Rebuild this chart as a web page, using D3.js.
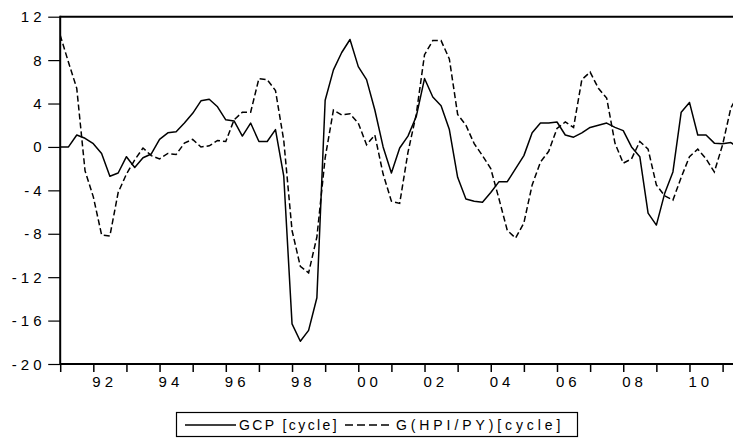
<!DOCTYPE html>
<html lang="en">
<head>
<meta charset="UTF-8">
<title>GCP and G(HPI/PY) cycles</title>
<style>
  body { margin: 0; background: #fff; }
  text { font-family: "Liberation Sans", Arial, sans-serif; fill: #000; }
</style>
</head>
<body>
<div id="chart"></div>
<script src="https://d3js.org/d3.v7.min.js"></script>
<script>
// quarterly observations starting 1991Q1
var startYear = 1991;
var gcp = [0, 0, 1.1, 0.8, 0.3, -0.6, -2.7, -2.4, -0.9, -1.9,
    -1.0, -0.65, 0.7, 1.3, 1.4, 2.2, 3.1, 4.25, 4.4, 3.7,
    2.5, 2.4, 1.0, 2.2, 0.5, 0.5, 1.6, -2.7, -16.3, -17.9,
    -16.9, -13.9, 4.3, 7.1, 8.7, 9.9, 7.4, 6.2, 3.4, 0,
    -2.4, -0.1, 1.0, 2.8, 6.3, 4.6, 3.8, 1.6, -2.8, -4.8,
    -5.0, -5.1, -4.2, -3.2, -3.2, -2.0, -0.8, 1.3, 2.2, 2.2,
    2.3, 1.1, 0.9, 1.3, 1.8, 2.0, 2.2, 1.8, 1.5, 0,
    -0.9, -6.1, -7.2, -4.3, -2.3, 3.2, 4.1, 1.1, 1.1, 0.35,
    0.3, 0.4, -0.1];
var hpi = [10.3, 7.8, 5.4, -2.2, -4.6, -8.1, -8.2, -4.2, -2.5, -1.2,
    -0.1, -0.8, -1.1, -0.6, -0.7, 0.35, 0.7, 0, 0.1, 0.6,
    0.5, 2.5, 3.2, 3.2, 6.3, 6.2, 5.2, 0.6, -7.7, -11.0,
    -11.6, -8.3, -1.0, 3.4, 2.95, 3.05, 2.2, 0.2, 1.1, -2.5,
    -5.0, -5.2, -0.5, 3.0, 8.5, 9.8, 9.8, 8.1, 3.0, 2.0,
    0.3, -0.8, -2.0, -4.8, -7.7, -8.4, -7.0, -3.5, -1.4, -0.4,
    1.7, 2.3, 1.8, 6.2, 6.9, 5.4, 4.5, 0.35, -1.5, -1.1,
    0.5, -0.2, -3.5, -4.5, -4.9, -2.8, -0.9, -0.2, -1.1, -2.3,
    0.2, 3.6, 5.0];
var yTicks = [12, 8, 4, 0, -4, -8, -12, -16, -20];
var yearTicks = d3.range(1991, 2012);
var labelYears = [1992, 1994, 1996, 1998, 2000, 2002, 2004, 2006, 2008, 2010];
var seriesNames = ["GCP [cycle]", "G(HPI/PY)[cycle]"];

var W = 733, H = 438;
var margin = {top: 16.7, left: 60.2, bottom: 364};

var svg = d3.select("#chart").append("svg")
    .attr("width", W)
    .attr("height", H);

var x = d3.scaleLinear().domain([1991, 2011.5]).range([margin.left, margin.left + 20.5 * 33.12]);
var y = d3.scaleLinear().domain([-20, 12]).range([margin.bottom, margin.top]);

function t(i) { return startYear + i / 4; }

svg.append("clipPath").attr("id", "clip")
  .append("rect")
    .attr("x", margin.left).attr("y", margin.top)
    .attr("width", W - margin.left).attr("height", margin.bottom - margin.top);

var line = d3.line()
    .x(function(d, i) { return x(t(i)); })
    .y(function(d) { return y(d); });

var plot = svg.append("g").attr("clip-path", "url(#clip)");

plot.append("path")
    .datum(gcp)
    .attr("d", line)
    .attr("fill", "none")
    .attr("stroke", "#000")
    .attr("stroke-width", 1.5)
    .attr("stroke-linejoin", "round");

plot.append("path")
    .datum(hpi)
    .attr("d", line)
    .attr("fill", "none")
    .attr("stroke", "#000")
    .attr("stroke-width", 1.5)
    .attr("stroke-dasharray", "6,3");

// y axis (ticks outside), labels placed by measured width so they end near x=38
var yAxis = svg.append("g")
    .attr("transform", "translate(" + margin.left + ",0)")
    .call(d3.axisLeft(y).tickValues(yTicks).tickSize(12).tickFormat(""));
yAxis.select(".domain").remove();
yAxis.selectAll(".tick line").attr("stroke-width", 1.2);

svg.append("g").selectAll("text")
    .data(yTicks)
    .enter().append("text")
    .attr("y", function(d) { return y(d) + 5.5; })
    .style("font-size", "15px")
    .style("letter-spacing", "4px")
    .text(function(d) { return d; })
    .attr("x", function() { return 45.5 - this.getComputedTextLength(); });

// x axis with yearly ticks and two-digit labels at even years
var xAxis = svg.append("g")
    .attr("transform", "translate(0," + margin.bottom + ")")
    .call(d3.axisBottom(x).tickValues(yearTicks).tickSize(8).tickFormat(""));
xAxis.select(".domain").remove();
xAxis.selectAll(".tick line").attr("stroke-width", 1.5);

svg.append("g").selectAll("text")
    .data(labelYears)
    .enter().append("text")
    .attr("x", function(d) { return x(d) - 1; })
    .attr("y", margin.bottom + 22.5)
    .style("font-size", "15px")
    .style("letter-spacing", "4px")
    .text(function(d) { return String(d).slice(2); });

// frame: left, top, bottom
svg.append("line")
    .attr("x1", margin.left).attr("x2", margin.left)
    .attr("y1", margin.top - 1).attr("y2", margin.bottom + 1)
    .attr("stroke", "#000").attr("stroke-width", 2);
svg.append("line")
    .attr("x1", margin.left).attr("x2", W)
    .attr("y1", margin.top).attr("y2", margin.top)
    .attr("stroke", "#000").attr("stroke-width", 2);
svg.append("line")
    .attr("x1", margin.left).attr("x2", W)
    .attr("y1", margin.bottom).attr("y2", margin.bottom)
    .attr("stroke", "#000").attr("stroke-width", 2);

// legend
var lg = svg.append("g");
lg.append("rect")
    .attr("x", 176.5).attr("y", 412.5)
    .attr("width", 401).attr("height", 24)
    .attr("fill", "#fff").attr("stroke", "#000").attr("stroke-width", 1.2);
lg.append("line")
    .attr("x1", 185).attr("x2", 236).attr("y1", 425).attr("y2", 425)
    .attr("stroke", "#000").attr("stroke-width", 1.3);
lg.append("text")
    .attr("x", 239).attr("y", 430)
    .style("font-size", "14px").style("letter-spacing", "2.4px")
    .text(seriesNames[0]);
lg.append("line")
    .attr("x1", 345).attr("x2", 393).attr("y1", 425).attr("y2", 425)
    .attr("stroke", "#000").attr("stroke-width", 1.3)
    .attr("stroke-dasharray", "8,4");
lg.append("text")
    .attr("x", 396).attr("y", 430)
    .style("font-size", "14px").style("letter-spacing", "3.9px")
    .text(seriesNames[1]);
</script>
</body>
</html>
